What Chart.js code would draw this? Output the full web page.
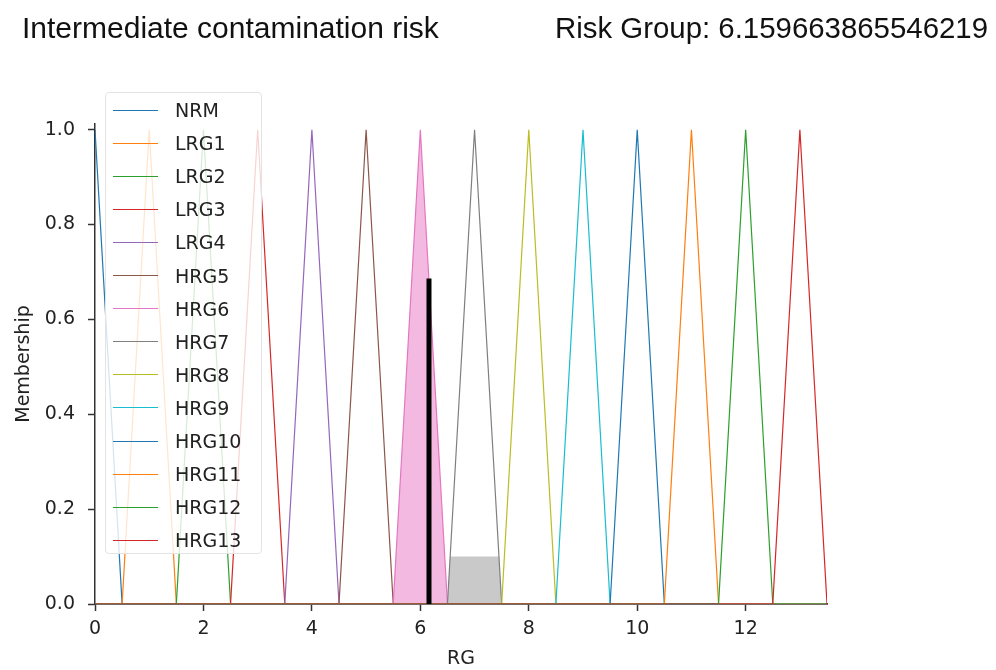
<!DOCTYPE html>
<html>
<head>
<meta charset="utf-8">
<script src="https://cdn.jsdelivr.net/npm/chart.js@4/dist/chart.umd.min.js"></script>
<style>
  body { margin: 0; background: #fff; }
  #wrap { position: relative; width: 996px; height: 670px; overflow: hidden; }
  #chart { position: absolute; left: 0; top: 0; }
  .title { position: absolute; font-family: "Liberation Sans", Arial, sans-serif; font-size: 30px; line-height: 30px; color: #111; white-space: nowrap; }
  #legend { position: absolute; left: 105px; top: 92px; width: 157px; height: 462px; background: rgba(255,255,255,0.8);
            border: 1px solid #e3e3e3; border-radius: 4px; box-sizing: border-box;
            font-family: "DejaVu Sans", sans-serif; font-size: 19px; color: #222; }
  .item { position: absolute; left: 7px; height: 22px; display: flex; align-items: center; }
  .swatch { width: 45px; height: 0; border-top: 1.5px solid; margin-right: 17px; }
</style>
</head>
<body>
<div id="wrap">
  <canvas id="chart" width="996" height="670"></canvas>
  <div class="title" style="left:22px; top:13px;">Intermediate contamination risk</div>
  <div class="title" style="left:555px; top:13px; font-size:29.4px;">Risk Group: 6.159663865546219</div>
  <div id="legend"></div>
</div>
<script>
// membership functions (triangles): name, left foot, peak, right foot
const names = ['NRM', 'LRG1', 'LRG2', 'LRG3', 'LRG4', 'HRG5', 'HRG6', 'HRG7',
               'HRG8', 'HRG9', 'HRG10', 'HRG11', 'HRG12', 'HRG13'];
const feetLeft  = [0, 0.5, 1.5, 2.5, 3.5, 4.5, 5.5, 6.5, 7.5, 8.5, 9.5, 10.5, 11.5, 12.5];
const peaks     = [0, 1, 2, 3, 4, 5, 6, 7, 8, 9, 10, 11, 12, 13];
const feetRight = [0.5, 1.5, 2.5, 3.5, 4.5, 5.5, 6.5, 7.5, 8.5, 9.5, 10.5, 11.5, 12.5, 13.5];
const colors = ['#1f77b4', '#ff7f0e', '#2ca02c', '#d62728', '#9467bd', '#8c564b', '#e377c2',
                '#7f7f7f', '#bcbd22', '#17becf', '#1f77b4', '#ff7f0e', '#2ca02c', '#d62728'];

const universe = [0, 13.5];
const xTicks = [0, 2, 4, 6, 8, 10, 12];
const yTicks = [0, 0.2, 0.4, 0.6, 0.8, 1.0];

// activated output areas
const pinkArea = [[5.5, 0], [6, 1], [6.5, 0]];
const grayArea = [[6.5, 0], [6.55, 0.1], [7.45, 0.1], [7.5, 0]];

// defuzzified result
const riskGroup = 6.159663865546219;
const riskMembership = 0.686;

function triPoints(i) {
  const pts = [];
  if (feetLeft[i] > universe[0]) pts.push({x: universe[0], y: 0});
  if (feetLeft[i] < peaks[i]) pts.push({x: feetLeft[i], y: 0});
  pts.push({x: peaks[i], y: 1});
  pts.push({x: feetRight[i], y: 0});
  if (feetRight[i] < universe[1]) pts.push({x: universe[1], y: 0});
  return pts;
}

const datasets = names.map((n, i) => ({
  label: n,
  data: triPoints(i),
  borderColor: colors[i],
  borderWidth: 1.2,
  fill: false,
  order: 13 - i
}));

datasets.push({
  label: 'fill-pink',
  data: pinkArea.map(p => ({x: p[0], y: p[1]})),
  borderWidth: 0,
  backgroundColor: 'rgba(232,120,196,0.52)',
  fill: 'origin',
  order: 50
});
datasets.push({
  label: 'fill-gray',
  data: grayArea.map(p => ({x: p[0], y: p[1]})),
  borderWidth: 0,
  backgroundColor: 'rgba(127,127,127,0.42)',
  fill: 'origin',
  order: 50
});
datasets.push({
  label: 'result',
  data: [{x: riskGroup, y: 0}, {x: riskGroup, y: riskMembership}],
  borderColor: '#000',
  borderWidth: 5,
  fill: false,
  order: -10
});

const tickFont = {family: 'DejaVu Sans', size: 19};

new Chart(document.getElementById('chart'), {
  type: 'scatter',
  data: {datasets: datasets},
  options: {
    responsive: false,
    animation: false,
    showLine: true,
    elements: {point: {radius: 0}, line: {tension: 0}},
    layout: {padding: {top: 124, right: 169, left: 0, bottom: 0}},
    plugins: {legend: {display: false}, tooltip: {enabled: false}},
    scales: {
      x: {
        type: 'linear', min: universe[0], max: universe[1],
        afterBuildTicks: s => { s.ticks = xTicks.map(v => ({value: v})); },
        afterFit: s => { s.height = 66; },
        grid: {drawOnChartArea: false, tickLength: 7, color: '#333', tickWidth: 1.5},
        border: {color: '#4a3733', width: 1.8},
        ticks: {font: tickFont, color: '#222', padding: 7, maxRotation: 0},
        title: {display: true, text: 'RG', font: {family: 'DejaVu Sans', size: 19}, color: '#222', padding: {top: 0, bottom: 0}}
      },
      y: {
        min: 0, max: 1.012,
        afterBuildTicks: s => { s.ticks = yTicks.map(v => ({value: v})); },
        afterFit: s => { s.width = 95; },
        grid: {drawOnChartArea: false, tickLength: 7, color: '#333', tickWidth: 1.5},
        border: {color: '#333', width: 1.5},
        ticks: {font: tickFont, color: '#222', padding: 13, callback: v => v.toFixed(1)},
        title: {display: true, text: 'Membership', font: {family: 'DejaVu Sans', size: 19}, color: '#222', padding: {top: 13, bottom: 0}}
      }
    }
  }
});

// legend box drawn over the axes, upper left
const legend = document.getElementById('legend');
names.forEach((n, i) => {
  const item = document.createElement('div');
  item.className = 'item';
  item.style.top = (6 + i * 33.1) + 'px';
  item.innerHTML = '<span class="swatch" style="border-color:' + colors[i] + '"></span>' + n;
  legend.appendChild(item);
});
</script>
</body>
</html>
